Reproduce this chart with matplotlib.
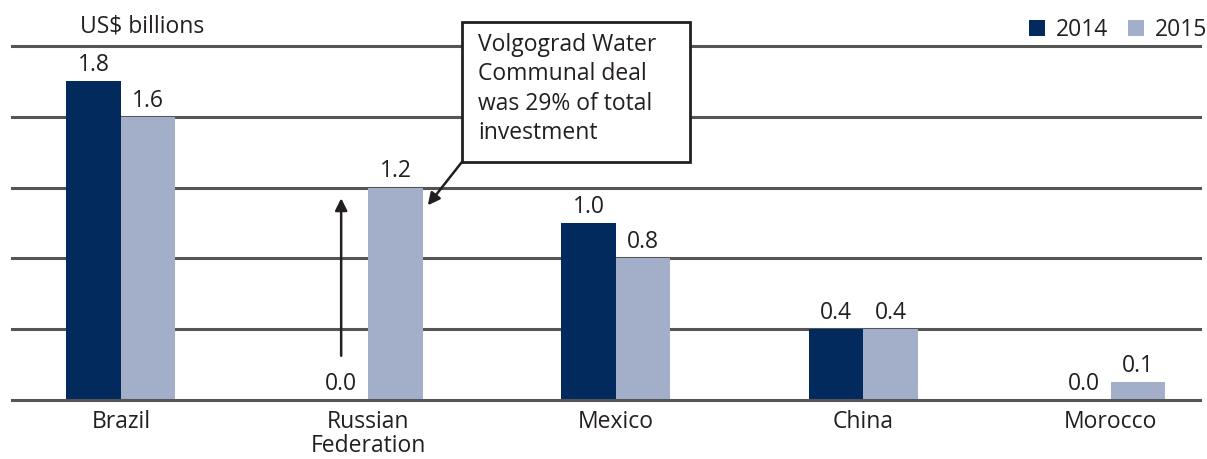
import matplotlib
matplotlib.use("Agg")
import matplotlib.pyplot as plt
from matplotlib.patches import Rectangle
import numpy as np

categories = ["Brazil", "Russian\nFederation", "Mexico", "China", "Morocco"]
values_2014 = [1.8, 0.0, 1.0, 0.4, 0.0]
values_2015 = [1.6, 1.2, 0.8, 0.4, 0.1]
series_names = ["2014", "2015"]
yticks = [0.0, 0.4, 0.8, 1.2, 1.6, 2.0]
unit_label = "US$ billions"
callout_text = "Volgograd Water\nCommunal deal\nwas 29% of total\ninvestment"

plt.rcParams['font.family'] = ['Open Sans', 'DejaVu Sans']
TXT = "#231f20"
C14 = "#022a5c"
C15 = "#a3aec9"
GRID = "#555555"
FS = 16.5

fig = plt.figure(figsize=(12.07, 4.59), dpi=100)
ax = fig.add_axes([12/1207, 59/459, 1188/1207, 354/459])

x = np.arange(len(categories))
w = 0.22
b1 = ax.bar(x - w/2, values_2014, w, color=C14, zorder=3, label=series_names[0])
b2 = ax.bar(x + w/2, values_2015, w, color=C15, zorder=3, label=series_names[1])

for bars, vals in ((b1, values_2014), (b2, values_2015)):
    for r, v in zip(bars, vals):
        ax.annotate(f"{v:.1f}", (r.get_x() + r.get_width()/2, v),
                    xytext=(0, 3), textcoords="offset points",
                    ha="center", va="bottom", fontsize=FS, color=TXT, zorder=5)

ax.set_xlim(-0.44, 4.36)
ax.set_ylim(0, 2.0)
for yv in yticks:
    ax.axhline(yv, color=GRID, linewidth=2.2, zorder=1 if yv > 0 else 4, clip_on=False)
ax.set_yticks([])
ax.set_xticks(x)
ax.set_xticklabels(categories, fontsize=FS, color=TXT, linespacing=1.0)
ax.tick_params(axis="x", length=0, pad=7)
for s in ax.spines.values():
    s.set_visible(False)

ax.text((80-12)/1188, (400-38)/354, unit_label, transform=ax.transAxes,
        fontsize=FS, color=TXT, ha="left", va="bottom")

# callout box
ax.add_patch(Rectangle((1.378, 1.345), 0.921, 0.791, facecolor="white",
                       edgecolor="#231f20", linewidth=2, zorder=6, clip_on=False))
ax.text(1.443, 2.075, callout_text, fontsize=FS, color=TXT, ha="left", va="top",
        linespacing=1.3, zorder=7, clip_on=False)
ax.annotate("", xy=(1.24, 1.10), xytext=(1.378, 1.345),
            arrowprops=dict(arrowstyle="-|>", color="#231f20", lw=1.8, mutation_scale=18,
                            shrinkA=0, shrinkB=0),
            zorder=6)
# vertical arrow above Russia 2014
ax.annotate("", xy=(x[1] - w/2, 1.14), xytext=(x[1] - w/2, 0.25),
            arrowprops=dict(arrowstyle="-|>", color="#231f20", lw=1.8, mutation_scale=18,
                            shrinkA=0, shrinkB=0),
            zorder=6)

leg = ax.legend(loc="lower right", bbox_to_anchor=(1.006, 1.012), ncol=2, frameon=False,
                fontsize=FS, handlelength=0.7, handleheight=0.7, handletextpad=0.45,
                columnspacing=0.9, borderaxespad=0, borderpad=0)
for t in leg.get_texts():
    t.set_color(TXT)

fig.savefig("out.png", dpi=100)
